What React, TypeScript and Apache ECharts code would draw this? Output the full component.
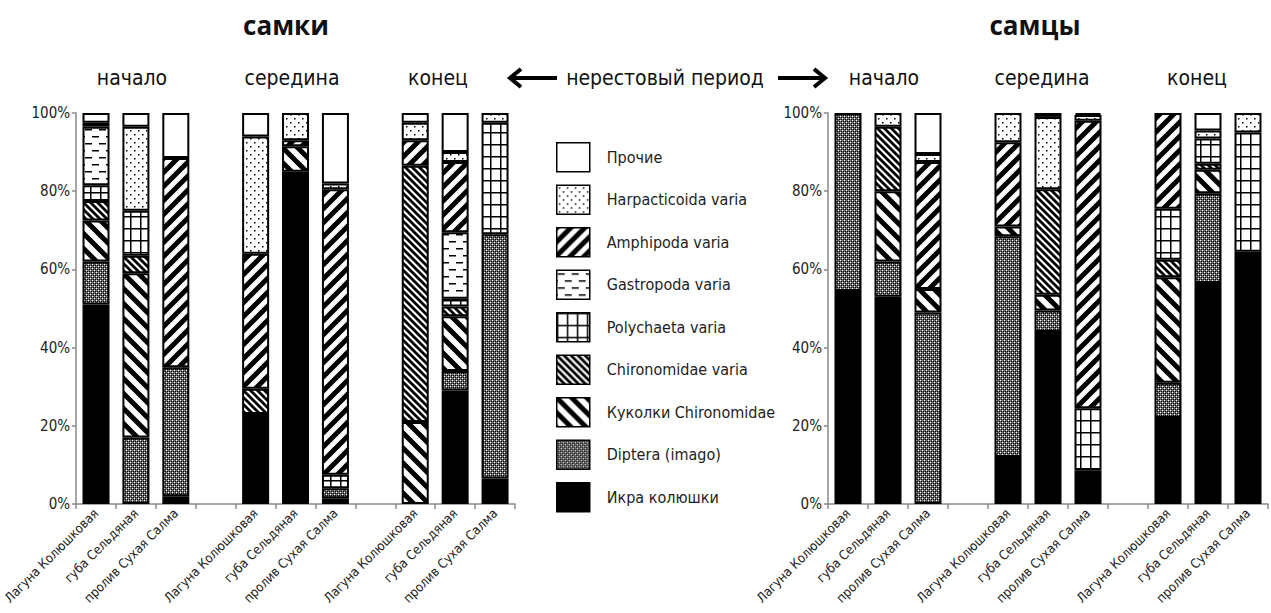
import React, { useEffect, useRef } from 'react';
import * as echarts from 'echarts';

// ---------- DATA ----------
const sites = ['Лагуна Колюшковая', 'губа Сельдяная', 'пролив Сухая Салма'];
const categories = [...sites, '', ...sites, ' ', ...sites];
const periods = ['начало', 'середина', 'конец'];
const spawningLabel = 'нерестовый период';
const panelTitles = ['самки', 'самцы'];
const yTickLabels = ['0%', '20%', '40%', '60%', '80%', '100%'];

// stacking order bottom -> top
const seriesNames = [
  'Икра колюшки',
  'Diptera (imago)',
  'Куколки Chironomidae',
  'Chironomidae varia',
  'Polychaeta varia',
  'Gastropoda varia',
  'Amphipoda varia',
  'Harpacticoida varia',
  'Прочие',
];

// females (самки): [начало x3, середина x3, конец x3], sites in order Лагуна, губа, пролив
const fIkra = [51, 0, 2, 23, 85, 1.5, 0, 29, 6.5];
const fDiptera = [11, 17, 33, 0, 0, 2.5, 0, 5, 62.5];
const fKukolki = [10.5, 42, 0, 0, 6.5, 0, 21, 14, 0];
const fChironomidae = [5, 4.5, 0, 6.5, 0, 0, 65.5, 2.5, 0];
const fPolychaeta = [4, 11.5, 0, 0, 0, 3.5, 0, 2, 28.5];
const fGastropoda = [15, 0, 0, 0, 0, 0, 0, 17, 0];
const fAmphipoda = [1, 0, 53.5, 34.5, 1.5, 73, 6.5, 18, 0];
const fHarpacticoida = [0, 21.5, 0, 30, 7, 1.5, 4.5, 2.5, 2.5];
const fOther = [2.5, 3.5, 11.5, 6, 0, 18, 2.5, 10, 0];

// males (самцы)
const mIkra = [54.5, 53, 0, 12, 44, 8.5, 22, 56.5, 64.5];
const mDiptera = [45.5, 9, 49, 56.5, 5.5, 0, 9, 23, 0];
const mKukolki = [0, 18, 6, 2.5, 4, 0, 27, 6, 0];
const mChironomidae = [0, 16.5, 0, 0, 27, 0, 4.5, 1.5, 0];
const mPolychaeta = [0, 0, 0, 0, 0, 16, 13, 6.5, 30.5];
const mGastropoda = [0, 0, 0, 0, 0, 0, 0, 0, 0];
const mAmphipoda = [0, 0, 32.5, 21.5, 0, 73.5, 24.5, 0, 0];
const mHarpacticoida = [0, 3.5, 2, 7.5, 18.5, 1.5, 0, 2, 5];
const mOther = [0, 0, 10.5, 0, 1, 0.5, 0, 4.5, 0];

const femaleData = [fIkra, fDiptera, fKukolki, fChironomidae, fPolychaeta, fGastropoda, fAmphipoda, fHarpacticoida, fOther];
const maleData = [mIkra, mDiptera, mKukolki, mChironomidae, mPolychaeta, mGastropoda, mAmphipoda, mHarpacticoida, mOther];

// ---------- helpers ----------
function withGaps(arr: number[]) {
  const out: (number | null)[] = [];
  arr.forEach((v, i) => {
    if (i === 3 || i === 6) out.push(null);
    out.push(v === 0 ? null : v);
  });
  return out;
}

function tile(w: number, h: number, draw: (ctx: CanvasRenderingContext2D) => void) {
  const c = document.createElement('canvas');
  c.width = w;
  c.height = h;
  const ctx = c.getContext('2d') as CanvasRenderingContext2D;
  ctx.fillStyle = '#fff';
  ctx.fillRect(0, 0, w, h);
  draw(ctx);
  return { image: c, repeat: 'repeat', imageWidth: w, imageHeight: h } as any;
}

function stripes(s: number, lw: number, back: boolean) {
  return tile(s, s, (ctx) => {
    ctx.strokeStyle = '#000';
    ctx.lineWidth = lw;
    ctx.beginPath();
    for (let k = -2; k <= 2; k++) {
      if (back) {
        ctx.moveTo(k * s - 2, -2);
        ctx.lineTo(k * s + s + 2, s + 2);
      } else {
        ctx.moveTo(k * s - 2, s + 2);
        ctx.lineTo(k * s + s + 2, -2);
      }
    }
    ctx.stroke();
  });
}

function buildPatterns() {
  const ikra = '#000';
  const diptera = tile(4, 4, (ctx) => {
    ctx.fillStyle = '#6e6e6e';
    ctx.fillRect(0, 0, 4, 4);
    ctx.fillStyle = '#000';
    ctx.fillRect(1, 1, 1, 1);
    ctx.fillRect(3, 3, 1, 1);
    ctx.fillRect(1, 3, 1, 1);
    ctx.fillRect(3, 1, 1, 1);
    ctx.fillStyle = '#fff';
    ctx.fillRect(0, 0, 1, 1);
    ctx.fillRect(2, 2, 1, 1);
  });
  const kukolki = stripes(15, 5, true);
  const chiron = stripes(7, 2.8, true);
  const polychaeta = tile(10, 12, (ctx) => {
    ctx.fillStyle = '#000';
    ctx.fillRect(0, 0, 10, 1.5);
    ctx.fillRect(0, 0, 1.5, 12);
  });
  const gastropoda = tile(14, 14, (ctx) => {
    ctx.fillStyle = '#000';
    ctx.fillRect(1, 3, 7, 1.5);
    ctx.fillRect(8, 10, 6, 1.5);
    ctx.fillRect(0, 10, 1, 1.5);
  });
  const amphipoda = stripes(14, 5, false);
  const harp = tile(8, 8, (ctx) => {
    ctx.fillStyle = '#000';
    ctx.fillRect(2, 2, 1.5, 1.5);
    ctx.fillRect(6, 6, 1.5, 1.5);
  });
  const other = '#fff';
  return [ikra, diptera, kukolki, chiron, polychaeta, gastropoda, amphipoda, harp, other];
}

const FONT = "'Liberation Sans Narrow', 'Arial Narrow', 'DejaVu Sans Condensed', 'Liberation Sans', sans-serif";
const TITLE_FONT = "'Open Sans', 'Noto Sans', sans-serif";

export default function App() {
  const ref = useRef<HTMLDivElement>(null);

  useEffect(() => {
    document.body.style.margin = '0';
    if (!ref.current) return;
    const chart = echarts.init(ref.current, null, { renderer: 'svg' });
    const patterns = buildPatterns();

    const gridLefts = [75, 828];
    const grids = gridLefts.map((l) => ({ left: l, top: 113, width: 440, height: 391 }));

    const xAxes = gridLefts.map((_, gi) => ({
      type: 'category',
      gridIndex: gi,
      data: categories,
      axisLine: { lineStyle: { color: '#8a8a8a', width: 1.5 } },
      axisTick: { show: true, length: 5, lineStyle: { color: '#8a8a8a', width: 1.5 } },
      axisLabel: {
        interval: 0,
        rotate: 45,
        fontSize: 13,
        fontFamily: FONT,
        color: '#222',
        margin: 7,
      },
    }));

    const yAxes = gridLefts.map((_, gi) => ({
      type: 'value',
      gridIndex: gi,
      min: 0,
      max: 100,
      interval: 20,
      splitLine: { show: false },
      axisLine: { show: true, lineStyle: { color: '#8a8a8a', width: 1.5 } },
      axisTick: { show: true, length: 4, lineStyle: { color: '#8a8a8a', width: 1.5 } },
      axisLabel: {
        formatter: (v: number) => yTickLabels[Math.round(v / 20)],
        fontSize: 15,
        fontFamily: FONT,
        color: '#222',
        margin: 6,
      },
    }));

    const series: any[] = [];
    seriesNames.forEach((name, i) => {
      [femaleData, maleData].forEach((dataSet, gi) => {
        series.push({
          name,
          type: 'bar',
          stack: gi === 0 ? 'f' : 'm',
          xAxisIndex: gi,
          yAxisIndex: gi,
          barWidth: 27,
          data: withGaps(dataSet[i]),
          itemStyle: { color: patterns[i], borderColor: '#000', borderWidth: 2 },
          emphasis: { disabled: true },
        });
      });
    });

    const subX = [[132, 292, 438], [884, 1042, 1197]];
    const graphics: any[] = [];
    panelTitles.forEach((t, i) => {
      graphics.push({
        type: 'text',
        x: i === 0 ? 286 : 1035,
        y: 25,
        style: { text: t, font: `bold 26px ${TITLE_FONT}`, fill: '#111', align: 'center', verticalAlign: 'middle' },
      });
      periods.forEach((p, j) => {
        graphics.push({
          type: 'text',
          x: subX[i][j],
          y: 78,
          style: { text: p, font: `21px ${FONT}`, fill: '#111', align: 'center', verticalAlign: 'middle' },
        });
      });
    });
    graphics.push({
      type: 'text',
      x: 665,
      y: 78,
      style: { text: spawningLabel, font: `21px ${FONT}`, fill: '#111', align: 'center', verticalAlign: 'middle' },
    });
    // arrows
    graphics.push({ type: 'line', shape: { x1: 510, y1: 78, x2: 557, y2: 78 }, style: { stroke: '#000', lineWidth: 4 } });
    graphics.push({ type: 'polyline', shape: { points: [[521, 69], [510, 78], [521, 87]] }, style: { stroke: '#000', lineWidth: 4, fill: null } });
    graphics.push({ type: 'line', shape: { x1: 778, y1: 78, x2: 825, y2: 78 }, style: { stroke: '#000', lineWidth: 4 } });
    graphics.push({ type: 'polyline', shape: { points: [[814, 69], [825, 78], [814, 87]] }, style: { stroke: '#000', lineWidth: 4, fill: null } });

    chart.setOption({
      animation: false,
      backgroundColor: '#fff',
      grid: grids,
      xAxis: xAxes,
      yAxis: yAxes,
      legend: {
        data: [...seriesNames].reverse(),
        orient: 'vertical',
        left: 556,
        top: 142,
        padding: 0,
        itemWidth: 33,
        itemHeight: 29,
        itemGap: 12,
        icon: 'rect',
        selectedMode: false,
        itemStyle: { borderColor: '#000', borderWidth: 1.5 },
        textStyle: { fontSize: 16, fontFamily: FONT, color: '#222', padding: [0, 0, 0, 12] },
      },
      series,
      graphic: graphics,
    } as any);

    return () => chart.dispose();
  }, []);

  return <div ref={ref} style={{ width: 1271, height: 613 }} />;
}
